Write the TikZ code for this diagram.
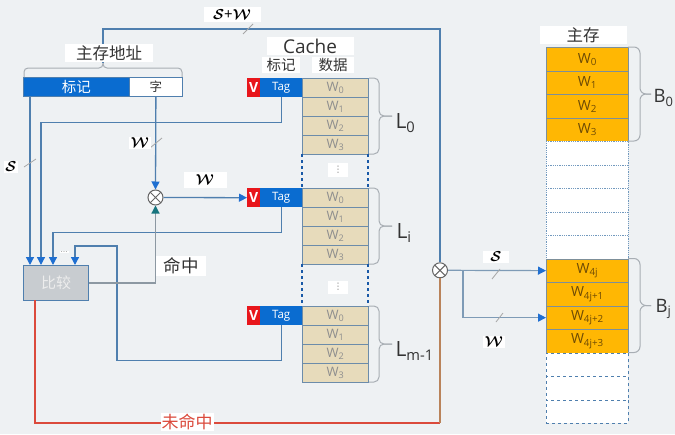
\documentclass[tikz,border=0pt]{standalone}
\usepackage{fontspec}
\setmainfont{Open Sans}
\newfontfamily\cjk{Noto Sans CJK SC}
\newfontfamily\dv{DejaVu Sans}
\usetikzlibrary{arrows.meta,calc}
\definecolor{bg}{HTML}{EEF1F3}
\definecolor{ln}{HTML}{4F7FAE}
\definecolor{lnlight}{HTML}{7E9BB6}
\definecolor{arr}{HTML}{1F6FD1}
\definecolor{tagblue}{HTML}{0A6CD0}
\definecolor{vred}{HTML}{E8161B}
\definecolor{tanc}{HTML}{E7DBBB}
\definecolor{cellb}{HTML}{6C8CAA}
\definecolor{celltxt}{HTML}{8E8E8E}
\definecolor{orng}{HTML}{FFB703}
\definecolor{orngb}{HTML}{7D8F99}
\definecolor{orngtxt}{HTML}{6E4B05}
\definecolor{brc}{HTML}{A8AEB4}
\definecolor{miss}{HTML}{DB4A3C}
\definecolor{missv}{HTML}{B9835A}
\definecolor{cmpfill}{HTML}{C8CCD0}
\definecolor{tealc}{HTML}{17757E}
\definecolor{grayw}{HTML}{8C98A2}
\definecolor{txtd}{HTML}{333333}
\tikzset{
  wire/.style={draw=ln, line width=1.3pt},
  lwire/.style={draw=lnlight, line width=1.2pt},
  tipb/.style={-{Triangle[width=8pt,length=8pt,color=arr]}},
  tipt/.style={-{Triangle[width=8pt,length=8pt,color=tealc]}},
  lbl/.style={fill=white, inner sep=1.5pt},
  scr/.style={font=\fontsize{15}{15}\selectfont\boldmath},
  dcell/.style={draw=cellb, line width=1pt, fill=tanc, minimum width=66pt, minimum height=19pt,
    inner sep=0pt, anchor=north west, text=celltxt, font=\fontsize{13}{13}\selectfont},
  vcell/.style={fill=vred, minimum width=13pt, minimum height=19pt, inner sep=0pt,
    anchor=north west, text=white, font=\fontsize{14}{14}\selectfont\bfseries},
  tcell/.style={fill=tagblue, minimum width=42pt, minimum height=19pt, inner sep=0pt,
    anchor=north west, text=white, font=\fontsize{11.5}{11.5}\selectfont},
  mcell/.style={draw=orngb, line width=0.8pt, fill=orng, minimum width=82pt, minimum height=23.5pt,
    inner sep=0pt, anchor=north west, text=orngtxt, font=\fontsize{14}{14}\selectfont},
  wcellA/.style={draw=ln!80, densely dotted, line width=0.8pt, fill=white, minimum width=82pt,
    minimum height=23.5pt, inner sep=0pt, anchor=north west},
  wcellB/.style={draw=ln, dashed, line width=0.8pt, fill=white, minimum width=82pt,
    minimum height=23.5pt, inner sep=0pt, anchor=north west},
  bracepath/.style={draw=brc, line width=1pt, rounded corners=5pt},
  slash/.style={draw=gray!70, line width=0.8pt},
  mux/.style={circle, draw=gray!80!black, fill=white, minimum size=15pt, inner sep=0pt, line width=1pt,
    path picture={\draw[gray!80!black, line width=1pt]
      (path picture bounding box.north west) -- (path picture bounding box.south east)
      (path picture bounding box.north east) -- (path picture bounding box.south west);}},
  lname/.style={anchor=west, text=txtd, font=\fontsize{21}{21}\selectfont},
}
\begin{document}
\begin{tikzpicture}[x=1pt,y=-1pt]
\useasboundingbox[fill=bg] (0,0) rectangle (675,434);

% ---------- address register ----------
\node[draw=ln, line width=0.8pt, fill=tagblue, minimum width=106pt, minimum height=19pt, inner sep=0pt,
  anchor=north west, text=white, font=\cjk\fontsize{14.5}{14.5}\selectfont] (tagA) at (23,77) {标记};
\node[draw=ln, line width=0.8pt, fill=white, minimum width=53pt, minimum height=19pt, inner sep=0pt,
  anchor=north west, text=txtd, font=\cjk\fontsize{12.5}{12.5}\selectfont] (wordA) at (129,77) {字};
\draw[bracepath, rounded corners=4pt] (24,77) -- (24,68) -- (103,68) -- (103,63);
\draw[bracepath, rounded corners=4pt] (103,63) -- (103,68) -- (182,68) -- (182,77);
\coordinate (btip) at (103,63);

% ---------- compare ----------
\node[draw=ln, line width=1pt, fill=cmpfill, minimum width=65pt, minimum height=35pt, inner sep=0pt,
  anchor=north west, text=white!93!black, font=\cjk\fontsize{15}{15}\selectfont] (cmp) at (23,265) {比较};
\coordinate (in1) at (30,265);
\coordinate (in2) at (41,265);
\coordinate (in3) at (53,265);
\coordinate (in4) at (75,265);
\coordinate (cmpout) at (35,300);
\coordinate (bl) at (35,423);

% ---------- multiplexers ----------
\node[mux] (mux1) at (155.5,197.5) {};
\node[mux] (mux2) at (440,270.3) {};

% ---------- cache lines ----------
\foreach \k/\Y in {0/78,1/188,2/306} {
  \node[vcell] (v\k) at (247,\Y) {V};
  \node[tcell] (t\k) at (260,\Y) {Tag};
  \foreach \r in {0,...,3} {
    \node[dcell] (d\k\r) at (302,{\Y+19*\r}) {W\textsubscript{\r}};
  }
  \draw[bracepath] (369,\Y) -- (379,\Y) -- (379,{\Y+38}) -- (392,{\Y+38});
  \draw[bracepath] (392,{\Y+38}) -- (379,{\Y+38}) -- (379,{\Y+76}) -- (369,{\Y+76});
}
\foreach \a/\b in {154/188,264/306} {
  \draw[draw=arr!80!black, line width=1.6pt, dash pattern=on 3pt off 3pt] (302,\a) -- (302,\b);
  \draw[draw=arr!80!black, line width=1.6pt, dash pattern=on 3pt off 3pt] (368,\a) -- (368,\b);
}
\node[lbl, minimum width=20pt, minimum height=14pt, text=gray, font=\dv\fontsize{9}{9}\selectfont] (vd1) at (338,170) {⋮};
\node[lbl, minimum width=20pt, minimum height=13pt, text=gray, font=\dv\fontsize{9}{9}\selectfont] (vd2) at (338,287) {⋮};

\node[lname] (L0) at (392,123) {L\textsubscript{0}};
\node[lname] (Li) at (393,233) {L\textsubscript{i}};
\node[lname] (Lm) at (392,351) {L\textsubscript{m-1}};

% ---------- main memory ----------
\foreach \i in {0,...,3} {
  \node[mcell] (m\i) at (546,{47+23.5*\i}) {W\textsubscript{\i}};
}
\foreach \i in {4,...,8} {
  \node[wcellA] (m\i) at (546,{47+23.5*\i}) {};
}
\foreach \i/\s in {9/4j,10/4j+1,11/4j+2,12/4j+3} {
  \node[mcell] (m\i) at (546,{47+23.5*\i}) {W\textsubscript{\s}};
}
\foreach \i in {13,...,15} {
  \node[wcellB] (m\i) at (546,{47+23.5*\i}) {};
}
\draw[bracepath, rounded corners=6pt] (628,47) -- (640,47) -- (640,94) -- (651,94);
\draw[bracepath, rounded corners=6pt] (651,94) -- (640,94) -- (640,141) -- (628,141);
\draw[bracepath, rounded corners=6pt] (628,258.5) -- (640,258.5) -- (640,305.5) -- (651,305.5);
\draw[bracepath, rounded corners=6pt] (651,305.5) -- (640,305.5) -- (640,352.5) -- (628,352.5);
\node[lname, font=\fontsize{18.5}{18.5}\selectfont] (B0) at (650,98) {B\textsubscript{0}};
\node[lname, font=\fontsize{18.5}{18.5}\selectfont] (Bj) at (652,309) {B\textsubscript{j}};

% ---------- connectors ----------
\draw[wire] (btip) -- (103,29) -| (mux2.north);
\draw[wire,tipb] (tagA.south -| in1) -- (in1);
\draw[wire,tipb] (t0.south) -- ++(0,25) -| (in2);
\draw[wire,tipb] (t1.south) -- ++(0,25) -| (in3);
\draw[wire,tipb] (t2.south) -- ++(0,35) -| (117,246) -| (in4);
\draw[wire,tipb] (wordA.south) -- (mux1.north);
\draw[wire,tipb] (mux1.east) -- (v1.west);
\draw[draw=grayw, line width=1.2pt, tipt] (cmp.east) -| (mux1.south);
\draw[draw=miss, line width=1.2pt] (cmpout) -- (bl) -- (mux2 |- bl);
\draw[draw=missv, line width=1.2pt] (mux2 |- bl) -- (mux2.south);
\coordinate (fork) at (463,270.3);
\draw[lwire,tipb] (mux2.east) -- (m9.west);
\draw[lwire,tipb] (fork) |- (m11.west);

% ---------- slashes ----------
\draw[slash] (243,34) -- (253,24);
\draw[slash] (24,167) -- (36,159);
\draw[slash] (150,148) -- (162,138);
\draw[slash] (492,279) -- (500,269);
\draw[slash] (496,322) -- (503,313);

% ---------- labels ----------
\node[lbl, minimum width=88pt, minimum height=17pt, text=txtd, font=\cjk\fontsize{16.5}{16.5}\selectfont] (addrlbl) at (109,53) {主存地址};
\node[lbl, scr, minimum width=57pt, minimum height=15pt] (swlbl) at (232,14.5) {$\mathcal{S}$+$\mathcal{W}$};
\node[lbl, minimum width=87pt, minimum height=16pt, text=txtd, font=\fontsize{19}{19}\selectfont] (cachelbl) at (310,46) {Cache};
\node[lbl, minimum width=38pt, minimum height=15pt, text=txtd, font=\cjk\fontsize{14.5}{14.5}\selectfont] (hdrtag) at (281,65) {标记};
\node[lbl, minimum width=42pt, minimum height=15pt, text=txtd, font=\cjk\fontsize{14.5}{14.5}\selectfont] (hdrdata) at (333,65) {数据};
\node[lbl, minimum width=87pt, minimum height=16pt, text=txtd, font=\cjk\fontsize{16.5}{16.5}\selectfont] (memlbl) at (583,35) {主存};
\node[lbl, scr] (slbl) at (11,167) {$\mathcal{S}$};
\node[lbl, scr] (wlbl1) at (140,143) {$\mathcal{W}$};
\node[lbl, scr, minimum width=43pt, minimum height=16pt] (wlbl2) at (205,180) {$\mathcal{W}$};
\node[lbl, minimum width=50pt, minimum height=20pt, text=txtd, font=\cjk\fontsize{17.5}{17.5}\selectfont] (hitlbl) at (181,266) {命中};
\node[lbl, inner sep=1pt, text=miss, font=\cjk\fontsize{17}{17}\selectfont] (misslbl) at (187,422) {未命中};
\node[lbl, inner sep=1pt, text=gray, font=\dv\fontsize{7}{7}\selectfont] (ell) at (64,252) {…};
\node[lbl, scr, minimum width=26pt] (slbl2) at (496,257) {$\mathcal{S}$};
\node[lbl, scr, minimum width=20pt] (wlbl3) at (494,342) {$\mathcal{W}$};
\end{tikzpicture}
\end{document}
